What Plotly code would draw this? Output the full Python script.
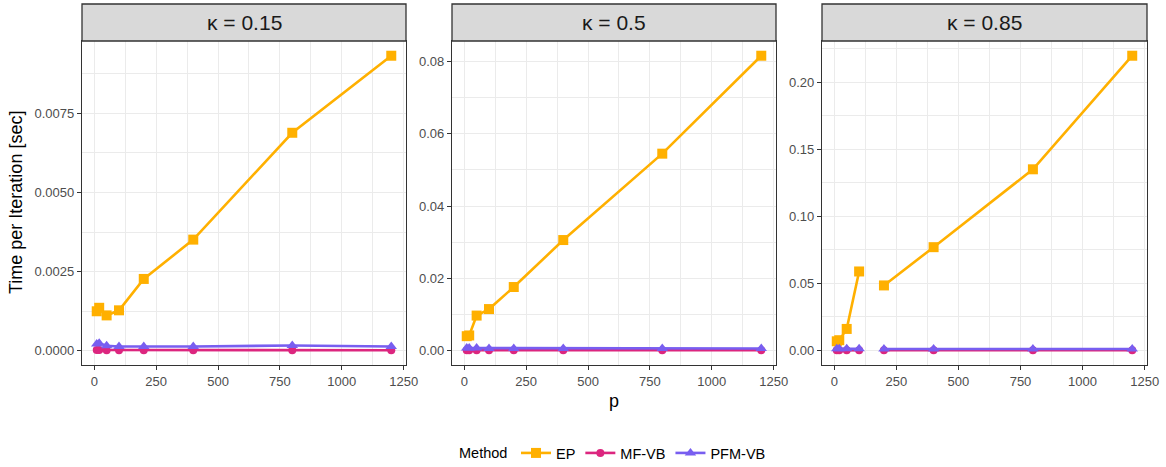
import plotly.graph_objects as go

# ---- data ----
kappas = ["0.15", "0.5", "0.85"]
p_k015 = [10, 20, 50, 100, 200, 400, 800, 1200]
p_k05 = [10, 20, 50, 100, 200, 400, 800, 1200]
p_k085 = [10, 20, 50, 100, 150, 200, 400, 800, 1200]

ep_k015 = [0.00125, 0.00136, 0.00112, 0.00128, 0.00227, 0.00351, 0.00688, 0.00931]
mf_k015 = [0.00003, 0.00003, 0.00002, 0.00002, 0.00002, 0.00002, 0.00002, 0.00002]
pfm_k015 = [0.00022, 0.00024, 0.00016, 0.00014, 0.00014, 0.00014, 0.00017, 0.00014]

ep_k05 = [0.0040, 0.0042, 0.0097, 0.0115, 0.0176, 0.0306, 0.0545, 0.0816]
mf_k05 = [0.0001, 0.0001, 0.0001, 0.0001, 0.0001, 0.0001, 0.0001, 0.0001]
pfm_k05 = [0.0007, 0.0007, 0.0007, 0.0006, 0.0006, 0.0006, 0.0006, 0.0006]

ep_k085 = [0.0069, 0.0077, 0.0161, 0.0589, None, 0.0485, 0.0770, 0.1350, 0.2196]
mf_k085 = [0.0002, 0.0002, 0.0002, 0.0002, None, 0.0002, 0.0002, 0.0002, 0.0002]
pfm_k085 = [0.0013, 0.0014, 0.0013, 0.0013, None, 0.0012, 0.0011, 0.0011, 0.0012]

methods = ["EP", "MF-VB", "PFM-VB"]
colors = {"EP": "#FFB000", "MF-VB": "#DC267F", "PFM-VB": "#785EF0"}
symbols = {"EP": "square", "MF-VB": "circle", "PFM-VB": "triangle-up"}
msizes = {"EP": 10, "MF-VB": 8, "PFM-VB": 10}

panels = [
    (p_k015, {"EP": ep_k015, "MF-VB": mf_k015, "PFM-VB": pfm_k015}, 0.0025, ".4f"),
    (p_k05, {"EP": ep_k05, "MF-VB": mf_k05, "PFM-VB": pfm_k05}, 0.02, ".2f"),
    (p_k085, {"EP": ep_k085, "MF-VB": mf_k085, "PFM-VB": pfm_k085}, 0.05, ".2f"),
]

W, H = 1166, 467
ML, MT = 82, 41
PH = 324
MB = H - MT - PH
panel_px = [(82, 406), (452, 776), (822, 1147)]
MR = W - panel_px[2][1]
PW = W - ML - MR
domains = [((a - ML) / PW, (b - ML) / PW) for a, b in panel_px]
bottom = MT + PH

FONT = "Liberation Sans, Arial, sans-serif"
fig = go.Figure()

for i, (pv, series, dt, fmt) in enumerate(panels):
    xa = "x" if i == 0 else f"x{i+1}"
    ya = "y" if i == 0 else f"y{i+1}"
    for m in methods:
        fig.add_trace(go.Scatter(
            x=pv, y=series[m], mode="lines+markers", name=m,
            legendgroup=m, showlegend=(i == 0),
            line=dict(color=colors[m], width=2.6),
            marker=dict(symbol=symbols[m], size=msizes[m], color=colors[m]),
            xaxis=xa, yaxis=ya, connectgaps=False,
        ))
    allv = [v for m in methods for v in series[m] if v is not None]
    lo, hi = min(allv), max(allv)
    pad = (hi - lo) * 0.05
    xlo, xhi = min(pv), max(pv)
    xpad = (xhi - xlo) * 0.05
    axis_common = dict(
        showline=True, mirror=True, linecolor="#333333", linewidth=1.3,
        ticks="outside", ticklen=4, tickcolor="#333333", tickwidth=1.1,
        showgrid=True, gridcolor="#EBEBEB", gridwidth=1.2, zeroline=False,
        automargin=False,
        tickfont=dict(family=FONT, size=13, color="#4D4D4D"),
    )
    fig.layout[f"xaxis{'' if i == 0 else i+1}"] = dict(
        domain=list(domains[i]), anchor=ya, range=[xlo - xpad, xhi + xpad],
        tickmode="linear", tick0=0, dtick=250,
        minor=dict(dtick=125, tick0=0, showgrid=True, gridcolor="#EBEBEB", gridwidth=0.6, ticks=""),
        **axis_common,
    )
    fig.layout[f"yaxis{'' if i == 0 else i+1}"] = dict(
        domain=[0, 1], anchor=xa, range=[lo - pad, hi + pad],
        tickmode="linear", tick0=0, dtick=dt, tickformat=fmt,
        minor=dict(dtick=dt / 2, tick0=0, showgrid=True, gridcolor="#EBEBEB", gridwidth=0.6, ticks=""),
        **axis_common,
    )
    # strip
    x0, x1 = domains[i]
    fig.add_shape(type="rect", xref="paper", yref="paper", x0=x0, x1=x1,
                  y0=1, y1=1 + 37 / PH, fillcolor="#D9D9D9",
                  line=dict(color="#333333", width=1.3), layer="above")
    fig.add_annotation(xref="paper", yref="paper", x=(x0 + x1) / 2, y=1 + 18.5 / PH,
                       text=f"\u03ba = {kappas[i]}", showarrow=False,
                       font=dict(family=FONT, size=21, color="#1A1A1A"),
                       xanchor="center", yanchor="middle")

# axis titles
fig.add_annotation(xref="paper", yref="paper", x=sum(domains[1]) / 2,
                   y=-(401 - bottom) / PH,
                   text="p", showarrow=False, xanchor="center", yanchor="middle",
                   font=dict(family=FONT, size=18, color="#000000"))
fig.add_annotation(xref="paper", yref="paper", x=-(ML - 16) / PW, y=0.5,
                   text="Time per Iteration [sec]", showarrow=False, textangle=-90,
                   xanchor="center", yanchor="middle",
                   font=dict(family=FONT, size=18, color="#000000"))
# legend title
fig.add_annotation(xref="paper", yref="paper", x=(457 - ML) / PW,
                   y=-(453 - bottom) / PH,
                   text="Method", showarrow=False, xanchor="left", yanchor="middle",
                   font=dict(family=FONT, size=14.5, color="#000000"))

fig.update_layout(
    width=W, height=H,
    margin=dict(l=ML, r=MR, t=MT, b=MB, autoexpand=False),
    paper_bgcolor="white", plot_bgcolor="white",
    font=dict(family=FONT, size=14, color="#000000"),
    hovermode=False,
    legend=dict(orientation="h", x=(516 - ML) / PW, xanchor="left",
                y=-(453 - bottom) / PH,
                yanchor="middle",
                font=dict(family=FONT, size=14.5), itemwidth=30,
                traceorder="normal"),
)

fig.write_html(
    "out.html",
    config={"displayModeBar": False},
    post_script="document.body.style.margin='0';document.body.style.overflow='hidden';"
                "document.documentElement.style.overflow='hidden';",
)
